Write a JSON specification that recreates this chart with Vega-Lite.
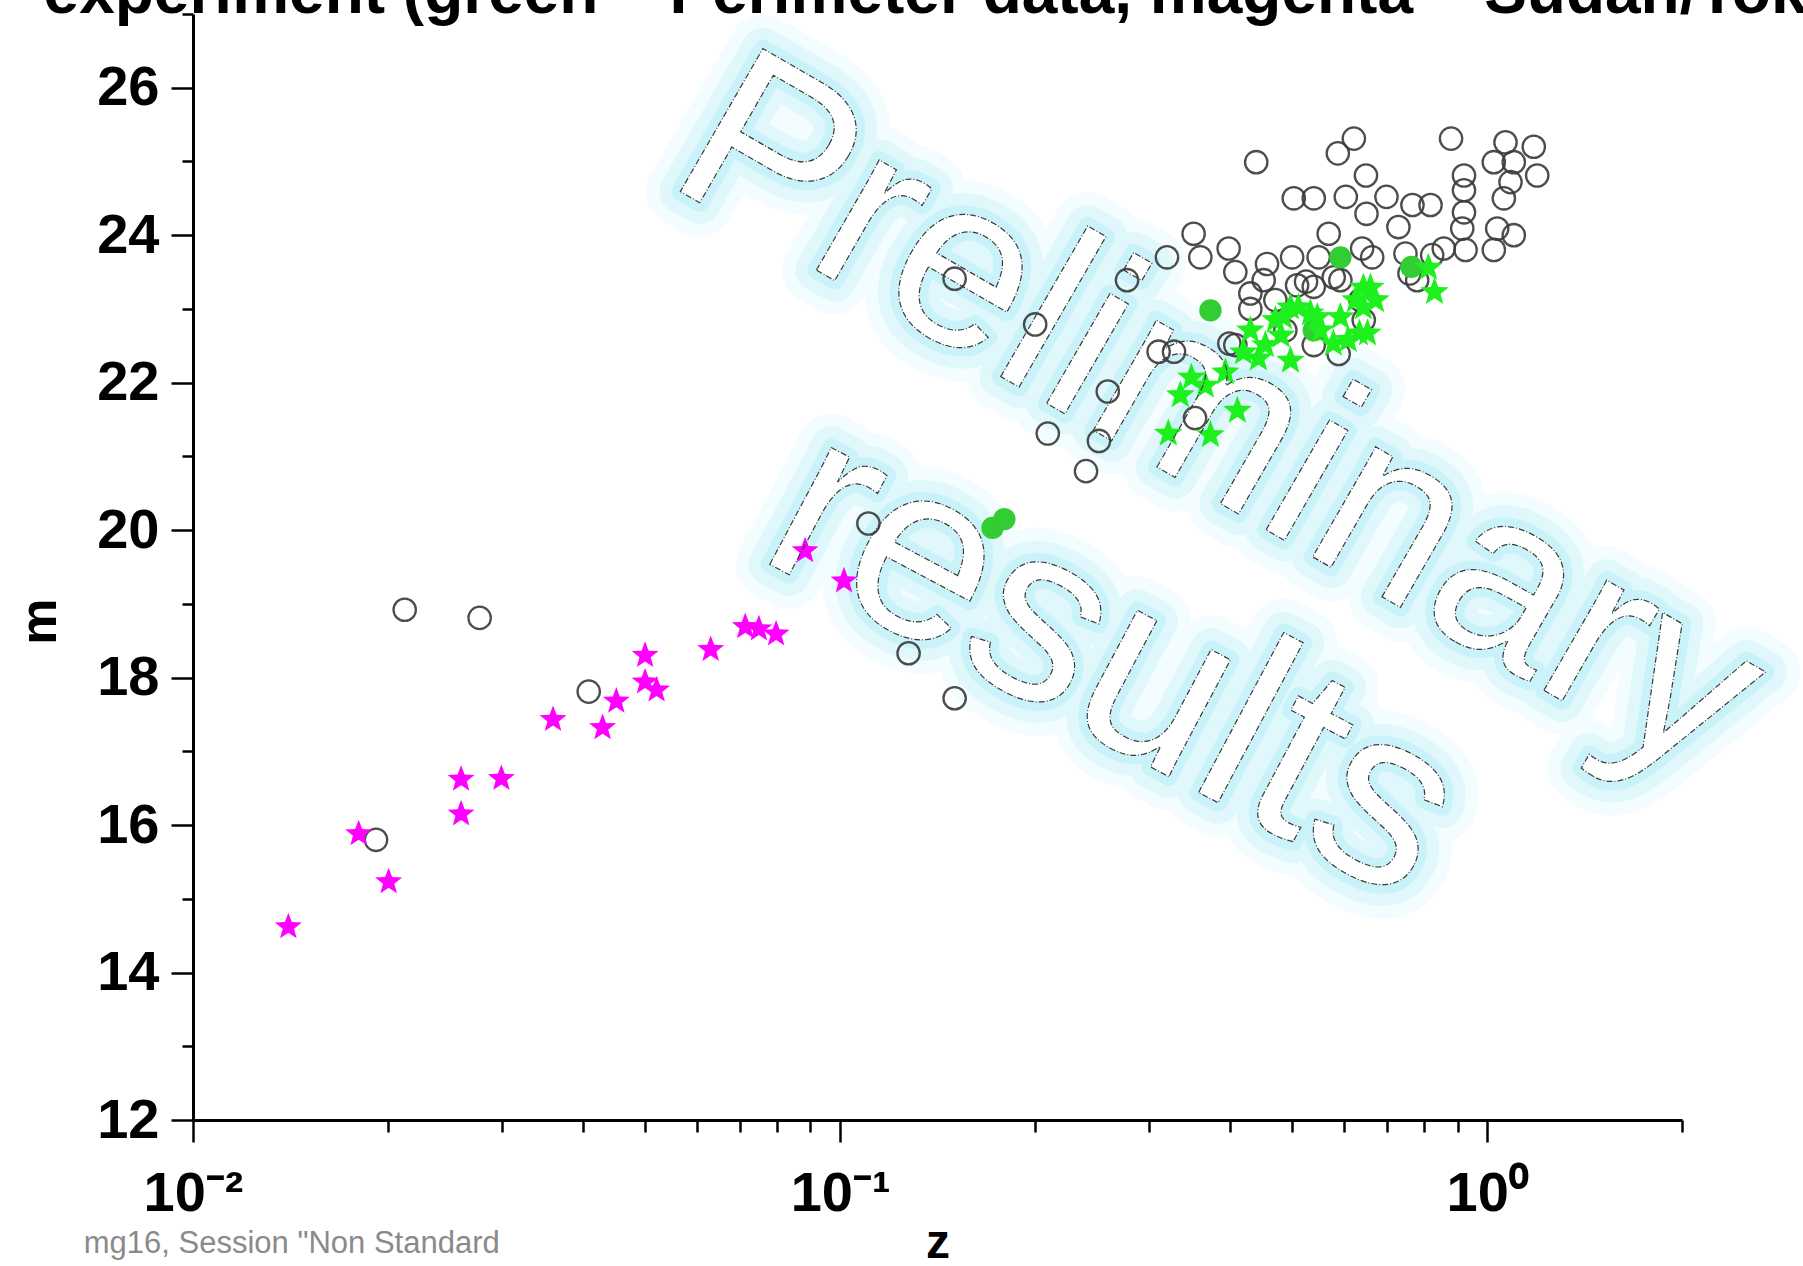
{
  "$schema": "https://vega.github.io/schema/vega-lite/v6.json",
  "width": 1489,
  "height": 1106,
  "autosize": {"type": "none"},
  "padding": {"left": 193, "top": 14, "right": 121, "bottom": 146},
  "background": "white",
  "config": {"view": {"stroke": null}, "font": "Liberation Sans"},
  "datasets": {
    "points": [
      {"z": 0.4396, "m": 24.99, "kind": "other"},
      {"z": 0.6222, "m": 25.31, "kind": "other"},
      {"z": 0.5877, "m": 25.11, "kind": "other"},
      {"z": 0.8793, "m": 25.31, "kind": "other"},
      {"z": 0.6496, "m": 24.81, "kind": "other"},
      {"z": 0.5024, "m": 24.50, "kind": "other"},
      {"z": 0.5395, "m": 24.50, "kind": "other"},
      {"z": 0.6046, "m": 24.52, "kind": "other"},
      {"z": 0.6988, "m": 24.52, "kind": "other"},
      {"z": 0.7664, "m": 24.41, "kind": "other"},
      {"z": 0.8174, "m": 24.41, "kind": "other"},
      {"z": 0.6508, "m": 24.29, "kind": "other"},
      {"z": 0.7291, "m": 24.11, "kind": "other"},
      {"z": 0.9207, "m": 24.81, "kind": "other"},
      {"z": 0.9207, "m": 24.61, "kind": "other"},
      {"z": 0.9207, "m": 24.31, "kind": "other"},
      {"z": 0.9150, "m": 24.09, "kind": "other"},
      {"z": 1.0238, "m": 24.99, "kind": "other"},
      {"z": 1.0673, "m": 25.26, "kind": "other"},
      {"z": 1.1803, "m": 25.20, "kind": "other"},
      {"z": 1.0992, "m": 24.99, "kind": "other"},
      {"z": 1.1948, "m": 24.81, "kind": "other"},
      {"z": 1.0864, "m": 24.72, "kind": "other"},
      {"z": 1.0610, "m": 24.50, "kind": "other"},
      {"z": 1.0363, "m": 24.09, "kind": "other"},
      {"z": 1.0992, "m": 24.00, "kind": "other"},
      {"z": 0.3518, "m": 24.02, "kind": "other"},
      {"z": 0.3200, "m": 23.70, "kind": "other"},
      {"z": 0.3603, "m": 23.70, "kind": "other"},
      {"z": 0.3985, "m": 23.82, "kind": "other"},
      {"z": 0.4081, "m": 23.50, "kind": "other"},
      {"z": 0.4568, "m": 23.61, "kind": "other"},
      {"z": 0.4995, "m": 23.70, "kind": "other"},
      {"z": 0.5689, "m": 24.02, "kind": "other"},
      {"z": 0.5489, "m": 23.70, "kind": "other"},
      {"z": 0.6408, "m": 23.82, "kind": "other"},
      {"z": 0.6641, "m": 23.70, "kind": "other"},
      {"z": 0.4305, "m": 23.21, "kind": "other"},
      {"z": 0.4305, "m": 23.00, "kind": "other"},
      {"z": 0.4514, "m": 23.39, "kind": "other"},
      {"z": 0.5084, "m": 23.32, "kind": "other"},
      {"z": 0.5395, "m": 23.30, "kind": "other"},
      {"z": 0.5791, "m": 23.43, "kind": "other"},
      {"z": 0.7476, "m": 23.75, "kind": "other"},
      {"z": 0.7795, "m": 23.39, "kind": "other"},
      {"z": 0.8568, "m": 23.82, "kind": "other"},
      {"z": 0.9259, "m": 23.80, "kind": "other"},
      {"z": 1.0238, "m": 23.80, "kind": "other"},
      {"z": 0.8222, "m": 23.73, "kind": "other"},
      {"z": 0.2776, "m": 23.39, "kind": "other"},
      {"z": 0.6445, "m": 22.85, "kind": "other"},
      {"z": 0.4081, "m": 22.51, "kind": "other"},
      {"z": 0.5395, "m": 22.51, "kind": "other"},
      {"z": 0.5895, "m": 22.39, "kind": "other"},
      {"z": 0.5249, "m": 23.37, "kind": "other"},
      {"z": 0.3106, "m": 22.42, "kind": "other"},
      {"z": 0.3281, "m": 22.42, "kind": "other"},
      {"z": 0.3536, "m": 21.52, "kind": "other"},
      {"z": 0.3995, "m": 22.53, "kind": "other"},
      {"z": 0.7584, "m": 23.48, "kind": "other"},
      {"z": 0.5931, "m": 23.39, "kind": "other"},
      {"z": 0.6368, "m": 23.12, "kind": "other"},
      {"z": 0.4706, "m": 23.12, "kind": "other"},
      {"z": 0.4876, "m": 22.71, "kind": "other"},
      {"z": 0.1503, "m": 23.41, "kind": "other"},
      {"z": 0.2002, "m": 22.79, "kind": "other"},
      {"z": 0.2592, "m": 21.88, "kind": "other"},
      {"z": 0.2094, "m": 21.31, "kind": "other"},
      {"z": 0.2512, "m": 21.21, "kind": "other"},
      {"z": 0.2399, "m": 20.80, "kind": "other"},
      {"z": 0.1106, "m": 20.09, "kind": "other"},
      {"z": 0.1276, "m": 18.33, "kind": "other"},
      {"z": 0.1503, "m": 17.72, "kind": "other"},
      {"z": 0.02124, "m": 18.92, "kind": "other"},
      {"z": 0.02773, "m": 18.81, "kind": "other"},
      {"z": 0.01918, "m": 15.80, "kind": "other"},
      {"z": 0.04088, "m": 17.81, "kind": "other"},
      {"z": 0.3735, "m": 22.98, "kind": "perimeter circle"},
      {"z": 0.5931, "m": 23.70, "kind": "perimeter circle"},
      {"z": 0.7636, "m": 23.57, "kind": "perimeter circle"},
      {"z": 0.5395, "m": 22.71, "kind": "perimeter circle"},
      {"z": 0.1720, "m": 20.03, "kind": "perimeter circle"},
      {"z": 0.1794, "m": 20.15, "kind": "perimeter circle"},
      {"z": 0.3215, "m": 21.31, "kind": "perimeter star"},
      {"z": 0.3735, "m": 21.29, "kind": "perimeter star"},
      {"z": 0.3490, "m": 22.07, "kind": "perimeter star"},
      {"z": 0.4111, "m": 21.62, "kind": "perimeter star"},
      {"z": 0.4305, "m": 22.71, "kind": "perimeter star"},
      {"z": 0.4541, "m": 22.51, "kind": "perimeter star"},
      {"z": 0.4803, "m": 22.64, "kind": "perimeter star"},
      {"z": 0.4430, "m": 22.33, "kind": "perimeter star"},
      {"z": 0.4200, "m": 22.41, "kind": "perimeter star"},
      {"z": 0.4706, "m": 22.85, "kind": "perimeter star"},
      {"z": 0.4843, "m": 22.89, "kind": "perimeter star"},
      {"z": 0.5108, "m": 23.02, "kind": "perimeter star"},
      {"z": 0.5931, "m": 22.89, "kind": "perimeter star"},
      {"z": 0.6346, "m": 22.67, "kind": "perimeter star"},
      {"z": 0.6437, "m": 23.02, "kind": "perimeter star"},
      {"z": 0.5785, "m": 22.53, "kind": "perimeter star"},
      {"z": 0.6437, "m": 23.29, "kind": "perimeter star"},
      {"z": 0.6600, "m": 23.29, "kind": "perimeter star"},
      {"z": 0.8112, "m": 23.56, "kind": "perimeter star"},
      {"z": 0.8291, "m": 23.23, "kind": "perimeter star"},
      {"z": 0.6531, "m": 22.67, "kind": "perimeter star"},
      {"z": 0.6096, "m": 22.58, "kind": "perimeter star"},
      {"z": 0.5524, "m": 22.71, "kind": "perimeter star"},
      {"z": 0.5331, "m": 22.94, "kind": "perimeter star"},
      {"z": 0.4966, "m": 23.02, "kind": "perimeter star"},
      {"z": 0.5464, "m": 22.89, "kind": "perimeter star"},
      {"z": 0.6721, "m": 23.12, "kind": "perimeter star"},
      {"z": 0.3939, "m": 22.14, "kind": "perimeter star"},
      {"z": 0.3668, "m": 21.96, "kind": "perimeter star"},
      {"z": 0.3356, "m": 21.83, "kind": "perimeter star"},
      {"z": 0.4966, "m": 22.30, "kind": "perimeter star"},
      {"z": 0.6258, "m": 23.12, "kind": "perimeter star"},
      {"z": 0.01404, "m": 14.62, "kind": "sudan"},
      {"z": 0.01803, "m": 15.88, "kind": "sudan"},
      {"z": 0.02006, "m": 15.23, "kind": "sudan"},
      {"z": 0.02596, "m": 16.62, "kind": "sudan"},
      {"z": 0.02596, "m": 16.15, "kind": "sudan"},
      {"z": 0.02996, "m": 16.63, "kind": "sudan"},
      {"z": 0.03601, "m": 17.43, "kind": "sudan"},
      {"z": 0.04295, "m": 17.32, "kind": "sudan"},
      {"z": 0.04510, "m": 17.68, "kind": "sudan"},
      {"z": 0.04996, "m": 18.30, "kind": "sudan"},
      {"z": 0.04996, "m": 17.94, "kind": "sudan"},
      {"z": 0.05205, "m": 17.83, "kind": "sudan"},
      {"z": 0.06310, "m": 18.38, "kind": "sudan"},
      {"z": 0.07136, "m": 18.69, "kind": "sudan"},
      {"z": 0.07491, "m": 18.66, "kind": "sudan"},
      {"z": 0.07963, "m": 18.59, "kind": "sudan"},
      {"z": 0.08830, "m": 19.72, "kind": "sudan"},
      {"z": 0.10140, "m": 19.31, "kind": "sudan"}
    ],
    "word1": [{"z": 0.385, "m": 21.5, "word": "Preliminary"}],
    "word2": [{"z": 0.2657, "m": 18.2, "word": "results"}],
    "heading": [{"z": 0.005876, "m": 27.02, "label": "experiment (green – Perimeter data, magenta – Sudan/Tokyo data)"}],
    "footer": [{"z": 0.00678, "m": 10.32, "label": "mg16, Session \"Non Standard"}]
  },
  "data": {"name": "points"},
  "encoding": {
    "x": {
      "field": "z",
      "type": "quantitative",
      "scale": {"type": "log", "domain": [0.01, 2], "nice": false},
      "axis": {
        "orient": "bottom",
        "title": "z",
        "values": [0.01, 0.02, 0.03, 0.04, 0.05, 0.06, 0.07, 0.08, 0.09, 0.1, 0.2, 0.3, 0.4, 0.5, 0.6, 0.7, 0.8, 0.9, 1, 2],
        "labelExpr": "datum.value == 0.01 ? '10⁻²' : datum.value == 0.1 ? '10⁻¹' : datum.value == 1 ? '10⁰' : ''",
        "tickSize": {"condition": {"test": "datum.value == 0.01 || datum.value == 0.1 || datum.value == 1", "value": 22}, "value": 12},
        "tickWidth": 2.5,
        "tickColor": "black",
        "domainColor": "black",
        "domainWidth": 3,
        "grid": false,
        "labelFont": "Liberation Sans",
        "labelFontWeight": "bold",
        "labelFontSize": 56,
        "labelColor": "black",
        "labelPadding": 24,
        "labelOverlap": false,
        "labelFlush": false,
        "titleFont": "Liberation Sans",
        "titleFontSize": 48,
        "titleFontWeight": "bold",
        "titleColor": "black",
        "titleY": 137,
        "titleBaseline": "alphabetic"
      }
    },
    "y": {
      "field": "m",
      "type": "quantitative",
      "scale": {"domain": [12, 27], "nice": false, "zero": false},
      "axis": {
        "orient": "left",
        "title": "m",
        "values": [12, 13, 14, 15, 16, 17, 18, 19, 20, 21, 22, 23, 24, 25, 26, 27],
        "labelExpr": "datum.value % 2 == 0 ? datum.label : ''",
        "tickSize": {"condition": {"test": "datum.value % 2 == 0", "value": 22}, "value": 11},
        "tickWidth": 2.5,
        "tickColor": "black",
        "domainColor": "black",
        "domainWidth": 3,
        "grid": false,
        "labelFont": "Liberation Sans",
        "labelFontWeight": "bold",
        "labelFontSize": 56,
        "labelColor": "black",
        "labelPadding": 12,
        "labelOverlap": false,
        "labelFlush": false,
        "titleFont": "Liberation Sans",
        "titleFontSize": 52,
        "titleFontWeight": "bold",
        "titleColor": "black",
        "titleAngle": -90,
        "titleX": -138,
        "titleY": 607,
        "titleAlign": "center",
        "titleBaseline": "alphabetic"
      }
    }
  },
  "layer": [
    {
      "data": {"name": "word1"},
      "mark": {"type": "text", "angle": 30, "font": "Liberation Sans", "fontSize": 240, "align": "center", "baseline": "middle", "fill": "#f3fcfe", "stroke": "#f3fcfe", "strokeWidth": 68, "strokeJoin": "round"},
      "encoding": {"text": {"field": "word"}}
    },
    {
      "data": {"name": "word2"},
      "mark": {"type": "text", "angle": 28, "font": "Liberation Sans", "fontSize": 250, "align": "center", "baseline": "middle", "fill": "#f3fcfe", "stroke": "#f3fcfe", "strokeWidth": 68, "strokeJoin": "round"},
      "encoding": {"text": {"field": "word"}}
    },
    {
      "data": {"name": "word1"},
      "mark": {"type": "text", "angle": 30, "font": "Liberation Sans", "fontSize": 240, "align": "center", "baseline": "middle", "fill": "#e0f8fc", "stroke": "#e0f8fc", "strokeWidth": 42, "strokeJoin": "round"},
      "encoding": {"text": {"field": "word"}}
    },
    {
      "data": {"name": "word2"},
      "mark": {"type": "text", "angle": 28, "font": "Liberation Sans", "fontSize": 250, "align": "center", "baseline": "middle", "fill": "#e0f8fc", "stroke": "#e0f8fc", "strokeWidth": 42, "strokeJoin": "round"},
      "encoding": {"text": {"field": "word"}}
    },
    {
      "data": {"name": "word1"},
      "mark": {"type": "text", "angle": 30, "font": "Liberation Sans", "fontSize": 240, "align": "center", "baseline": "middle", "fill": "#caf3f9", "stroke": "#caf3f9", "strokeWidth": 18, "strokeJoin": "round"},
      "encoding": {"text": {"field": "word"}}
    },
    {
      "data": {"name": "word2"},
      "mark": {"type": "text", "angle": 28, "font": "Liberation Sans", "fontSize": 250, "align": "center", "baseline": "middle", "fill": "#caf3f9", "stroke": "#caf3f9", "strokeWidth": 18, "strokeJoin": "round"},
      "encoding": {"text": {"field": "word"}}
    },
    {
      "data": {"name": "word1"},
      "mark": {"type": "text", "angle": 30, "font": "Liberation Sans", "fontSize": 240, "align": "center", "baseline": "middle", "fill": "white"},
      "encoding": {"text": {"field": "word"}}
    },
    {
      "data": {"name": "word2"},
      "mark": {"type": "text", "angle": 28, "font": "Liberation Sans", "fontSize": 250, "align": "center", "baseline": "middle", "fill": "white"},
      "encoding": {"text": {"field": "word"}}
    },
    {
      "transform": [{"filter": "datum.kind == 'other'"}],
      "mark": {"type": "point", "shape": "circle", "filled": false, "stroke": "#3a3a3a", "strokeWidth": 2.3, "size": 500, "opacity": 0.9}
    },
    {
      "transform": [{"filter": "datum.kind == 'perimeter circle'"}],
      "mark": {"type": "point", "shape": "circle", "filled": true, "fill": "#33cc33", "stroke": null, "size": 500, "opacity": 1}
    },
    {
      "transform": [{"filter": "datum.kind == 'perimeter star'"}],
      "mark": {"type": "point", "shape": "M0,-1L0.2469,-0.3398L0.9511,-0.309L0.3994,0.1298L0.5878,0.809L0,0.42L-0.5878,0.809L-0.3994,0.1298L-0.9511,-0.309L-0.2469,-0.3398Z", "filled": true, "fill": "#1ef01e", "stroke": null, "size": 900, "opacity": 1}
    },
    {
      "transform": [{"filter": "datum.kind == 'sudan'"}],
      "mark": {"type": "point", "shape": "M0,-1L0.2469,-0.3398L0.9511,-0.309L0.3994,0.1298L0.5878,0.809L0,0.42L-0.5878,0.809L-0.3994,0.1298L-0.9511,-0.309L-0.2469,-0.3398Z", "filled": true, "fill": "#ff00ff", "stroke": null, "size": 800, "opacity": 1}
    },
    {
      "data": {"name": "word1"},
      "mark": {"type": "text", "angle": 30, "font": "Liberation Sans", "fontSize": 240, "align": "center", "baseline": "middle", "fill": "transparent", "stroke": "#3a3a3a", "strokeWidth": 1.2, "strokeDash": [6, 2, 1, 2]},
      "encoding": {"text": {"field": "word"}}
    },
    {
      "data": {"name": "word2"},
      "mark": {"type": "text", "angle": 28, "font": "Liberation Sans", "fontSize": 250, "align": "center", "baseline": "middle", "fill": "transparent", "stroke": "#3a3a3a", "strokeWidth": 1.2, "strokeDash": [6, 2, 1, 2]},
      "encoding": {"text": {"field": "word"}}
    },
    {
      "data": {"name": "heading"},
      "mark": {"type": "text", "font": "Liberation Sans", "fontSize": 64, "fontWeight": "bold", "align": "left", "baseline": "alphabetic", "fill": "black"},
      "encoding": {"text": {"field": "label"}}
    },
    {
      "data": {"name": "footer"},
      "mark": {"type": "text", "font": "Liberation Sans", "fontSize": 31, "align": "left", "baseline": "middle", "fill": "#8a8a8a"},
      "encoding": {"text": {"field": "label"}}
    }
  ]
}
